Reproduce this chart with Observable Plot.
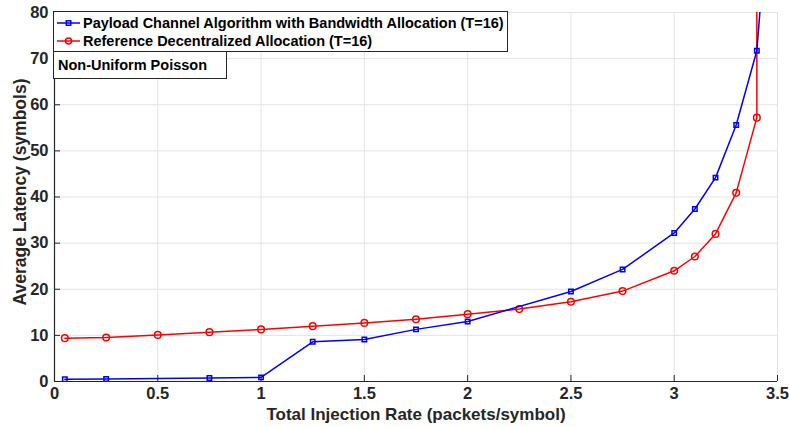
<!DOCTYPE html>
<html>
<head>
<meta charset="utf-8">
<script src="https://cdn.jsdelivr.net/npm/d3@7"></script>
<script src="https://cdn.jsdelivr.net/npm/@observablehq/plot@0.6"></script>
<style>
  body { margin: 0; background: #fff; }
  #wrap { position: relative; width: 789px; height: 427px; font-family: "Liberation Sans", Arial, sans-serif; }
  .box { position: absolute; background: #fff; border: 1px solid #262626; box-sizing: border-box; font-weight: bold; font-size: 14.5px; color: #000; }
  .row { position: absolute; left: 0; height: 18px; display: flex; align-items: center; white-space: nowrap; }
</style>
</head>
<body>
<div id="wrap"></div>
<script>
// ---- data ----
const blueX = [0.05, 0.25, 0.75, 1.0, 1.25, 1.5, 1.75, 2.0, 2.5, 2.75, 3.0, 3.1, 3.2, 3.3, 3.4, 3.45];
const blueY = [0.5, 0.55, 0.75, 0.9, 8.6, 9.1, 11.3, 13.0, 19.5, 24.3, 32.2, 37.4, 44.2, 55.6, 71.7, 100];
const redX = [0.05, 0.25, 0.5, 0.75, 1.0, 1.25, 1.5, 1.75, 2.0, 2.25, 2.5, 2.75, 3.0, 3.1, 3.2, 3.3, 3.4, 3.4];
const redY = [9.4, 9.55, 10.1, 10.7, 11.3, 12.0, 12.7, 13.5, 14.6, 15.7, 17.3, 19.6, 24.0, 27.1, 32.0, 40.9, 57.2, 150];
const seriesNames = ["Payload Channel Algorithm with Bandwidth Allocation (T=16)", "Reference Decentralized Allocation (T=16)"];
const xTicks = [0, 0.5, 1, 1.5, 2, 2.5, 3, 3.5];
const yTicks = [0, 10, 20, 30, 40, 50, 60, 70, 80];
const xLabel = "Total Injection Rate (packets/symbol)";
const yLabel = "Average Latency (symbols)";
const annotation = "Non-Uniform Poisson";

const blue = blueX.map((x, i) => ({x, y: blueY[i]}));
const red = redX.map((x, i) => ({x, y: redY[i]}));

const W = 789, H = 427, mL = 54, mR = 12, mT = 12, mB = 46;
const fw = W - mL - mR, fh = H - mT - mB;
const axisColor = "#262626";
const gridColor = "#e3e3e3";

const chart = Plot.plot({
  width: W, height: H,
  marginLeft: mL, marginRight: mR, marginTop: mT, marginBottom: mB,
  style: {fontFamily: "Liberation Sans, Arial, sans-serif", fontSize: "16.5px", fontWeight: "bold", color: axisColor, background: "#fff"},
  x: {domain: [0, 3.5]},
  y: {domain: [0, 80]},
  marks: [
    Plot.gridX(xTicks, {stroke: gridColor, strokeOpacity: 1, strokeWidth: 1}),
    Plot.gridY(yTicks, {stroke: gridColor, strokeOpacity: 1, strokeWidth: 1}),
    Plot.axisX(xTicks, {tickSize: 0, tickPadding: 6, tickFormat: d => String(d), label: null, fill: axisColor, fontSize: 16.5}),
    Plot.axisY(yTicks, {tickSize: 0, tickPadding: 6, tickFormat: d => String(d), label: null, fill: axisColor, fontSize: 16.5}),
    Plot.ruleX(xTicks, {x: d => d, insetTop: fh - 6, stroke: axisColor, strokeWidth: 1}),
    Plot.ruleY(yTicks, {y: d => d, insetRight: fw - 6, stroke: axisColor, strokeWidth: 1}),
    Plot.ruleY([0], {stroke: axisColor, strokeWidth: 1.2}),
    Plot.ruleX([0], {stroke: axisColor, strokeWidth: 1.2}),
    Plot.line(red, {x: "x", y: "y", stroke: "#ff0000", strokeWidth: 1.5, clip: true}),
    Plot.dot(red, {x: "x", y: "y", r: 3.3, stroke: "#ff0000", strokeWidth: 1.5, fill: "none", clip: true}),
    Plot.line(blue, {x: "x", y: "y", stroke: "#0000ff", strokeWidth: 1.5, clip: true}),
    Plot.dot(blue, {x: "x", y: "y", symbol: "square", r: 2.5, stroke: "#0000ff", strokeWidth: 1.5, fill: "none", clip: true}),
    Plot.text([xLabel], {frameAnchor: "bottom", dy: 33, lineAnchor: "middle", textAnchor: "middle", text: d => d, fontSize: 17, fontWeight: "bold", fill: axisColor}),
    Plot.text([yLabel], {frameAnchor: "left", dx: -34, dy: -5, rotate: -90, lineAnchor: "middle", textAnchor: "middle", text: d => d, fontSize: 17.5, fontWeight: "bold", fill: axisColor})
  ]
});

const wrap = document.getElementById("wrap");
wrap.appendChild(chart);

// legend overlay
const legend = document.createElement("div");
legend.className = "box";
Object.assign(legend.style, {left: "53px", top: "11px", width: "455px", height: "41px"});
const colors = ["#0000ff", "#ff0000"];
const symbols = ["square", "circle"];
seriesNames.forEach((name, i) => {
  const row = document.createElement("div");
  row.className = "row";
  row.style.top = (i === 0 ? 2 : 20) + "px";
  const sw = d3.create("svg").attr("width", 29).attr("height", 18).style("flex", "none");
  sw.append("line").attr("x1", 3).attr("x2", 26).attr("y1", 9).attr("y2", 9).attr("stroke", colors[i]).attr("stroke-width", 1.5);
  if (symbols[i] === "square") sw.append("rect").attr("x", 12.3).attr("y", 6.8).attr("width", 4.4).attr("height", 4.4).attr("fill", "none").attr("stroke", colors[i]).attr("stroke-width", 1.5);
  else sw.append("circle").attr("cx", 14.5).attr("cy", 9).attr("r", 3).attr("fill", "none").attr("stroke", colors[i]).attr("stroke-width", 1.5);
  row.appendChild(sw.node());
  const t = document.createElement("span");
  t.textContent = name;
  row.appendChild(t);
  legend.appendChild(row);
});
wrap.appendChild(legend);

const ann = document.createElement("div");
ann.className = "box";
Object.assign(ann.style, {left: "53px", top: "51px", width: "174px", height: "28px", display: "flex", alignItems: "center", paddingLeft: "4px"});
ann.textContent = annotation;
wrap.appendChild(ann);
</script>
</body>
</html>
